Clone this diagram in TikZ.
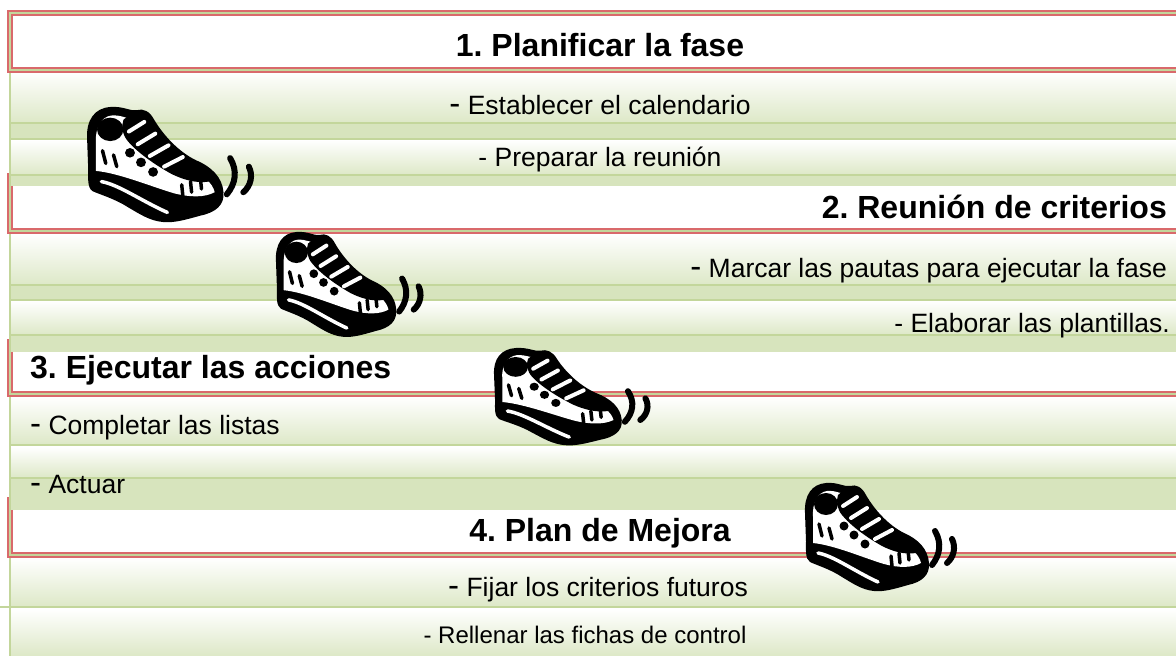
\documentclass[tikz,border=0pt]{standalone}
\usepackage{fontspec}
\setmainfont{Liberation Sans}
\usetikzlibrary{positioning}

\definecolor{rowgreen}{HTML}{D7E4BD}
\definecolor{linegreen}{HTML}{C3D69B}
\definecolor{rimred}{HTML}{D9696B}

\newcommand{\bigdash}{{\fontsize{33}{36}\selectfont -}}

% running shoe, local units in px, y pointing down
\tikzset{
  sneaker/.pic={
    \fill[black] (1,30) .. controls (0,12) and (8,1) .. (22,0)
      .. controls (34,-1) and (40,4) .. (46,3)
      .. controls (52,1) and (58,4) .. (62,12)
      .. controls (70,26) and (84,42) .. (100,50)
      .. controls (114,56) and (124,66) .. (125,80)
      .. controls (126,92) and (118,99) .. (104,102)
      .. controls (90,106) and (80,109) .. (70,108)
      .. controls (58,107) and (48,100) .. (38,94)
      .. controls (26,86) and (12,82) .. (6,79)
      .. controls (1,76) and (2,66) .. (2,58) -- cycle;
    \fill[white] (9,34) .. controls (8,20) and (14,9) .. (23,8)
      .. controls (32,7) and (38,12) .. (45,11)
      .. controls (49,10) and (52,12) .. (54,16)
      .. controls (64,32) and (78,48) .. (95,58)
      .. controls (106,64) and (115,71) .. (117,80)
      .. controls (108,85) and (95,85) .. (80,81)
      .. controls (60,75) and (30,62) .. (9,60) -- cycle;
    % laces
    \fill[black] (34,12) .. controls (42,4) and (54,4) .. (58,12)
      .. controls (68,28) and (84,44) .. (100,54)
      .. controls (108,58) and (112,64) .. (112,70)
      .. controls (100,72) and (88,68) .. (78,63)
      .. controls (62,54) and (46,42) .. (38,32)
      .. controls (33,26) and (32,18) .. (34,12) -- cycle;
    \draw[white, line width=4pt, line cap=round]
      (39,23) -- (53,14) (47,35) -- (63,25) (58,46) -- (75,36) (71,56) -- (88,47);
    \fill[black] (22,21) ellipse [x radius=12, y radius=11];
    \fill[black] (40,43) circle (4.5) (50,52) circle (4.5) (61,61) circle (4.5);
    \draw[black, line width=3.5pt, line cap=round]
      (15,41) -- (18,53) (25,45) -- (28,56)
      (87,73) -- (88,83) (95,70) -- (96,80) (104,67) -- (105,77);
    % sole stripe
    \draw[white, line width=3.5pt, line cap=round]
      (14,70) .. controls (30,73) and (50,88) .. (74,99);
    % motion marks
    \draw[black, line width=6pt, line cap=round]
      (131,48) .. controls (138,60) and (136,72) .. (128,82)
      (148,56) .. controls (152,64) and (150,74) .. (143,80);
  }
}

\begin{document}
\frenchspacing
\begin{tikzpicture}[x=1pt, y=-1pt,
  bar/.style={top color=white, bottom color=rowgreen!85!white},
  band/.style={fill=rowgreen},
  rule/.style={draw=linegreen, line width=1.5pt},
  redline/.style={draw=rimred, line width=1.3pt},
  head/.style={font=\fontsize{32}{36}\selectfont\bfseries, inner sep=0pt},
  item/.style={font=\fontsize{26.5}{30}\selectfont, inner sep=0pt}
]
\useasboundingbox (0,0) rectangle (1176,656);

% task strips
\foreach \ya/\yb in {71/123, 140/175, 234/285, 301/335, 397/445, 447/478, 558/607, 609/656}
  \shade[bar] (10,\ya) rectangle (1176,\yb);
\foreach \ya/\yb in {123/139, 175/186, 285/300, 335/352, 478/510}
  \fill[band] (10,\ya) rectangle (1176,\yb);
\foreach \y in {123, 139, 175, 285, 300, 335, 445, 478, 607}
  \draw[rule] (10,\y) -- (1176,\y);
\draw[rule] (0,607) -- (10,607);
\draw[rule] (10,70) -- (10,656);

% phase headers
\fill[white] (10,13) rectangle (1176,70);
\draw[redline] (1176,11) -- (8,11) -- (8,72) -- (1176,72);
\draw[redline] (1176,15) -- (12,15) -- (12,68) -- (1176,68);
\draw[rule] (1176,13) -- (10,13) -- (10,70) -- (1176,70);
\foreach \ya/\yb in {186/231, 352/394, 510/555} {
  \fill[white] (10,\ya) rectangle (1176,\yb);
  \draw[redline] (8,\ya-13) -- (8,\yb+2) -- (1176,\yb+2);
  \draw[redline] (12,\ya) -- (12,\yb-2) -- (1176,\yb-2);
  \draw[rule] (10,\ya-13) -- (10,\yb) -- (1176,\yb);
}

% texts
\node[head, anchor=base] (phase1) at (600,56) {1. Planificar la fase};
\node[item, anchor=base] (calendar) at (600,114) {\bigdash{} Establecer el calendario};
\node[item, anchor=base] (meeting) at (600,166) {- Preparar la reunión};
\node[head, anchor=base east] (phase2) at (1167,218) {2. Reunión de criterios};
\node[item, anchor=base east] (rules) at (1167,277) {\bigdash{} Marcar las pautas para ejecutar la fase};
\node[item, anchor=base east] (templates) at (1170,332) {- Elaborar las plantillas.};
\node[head, anchor=base west] (phase3) at (30,378) {3. Ejecutar las acciones};
\node[item, anchor=base west] (lists) at (30,434) {\bigdash{} Completar las listas};
\node[item, anchor=base west] (act) at (30,493) {\bigdash{} Actuar};
\node[head, anchor=base] (phase4) at (600,541) {4. Plan de Mejora};
\node[item, anchor=base] (criteria) at (598,596) {\bigdash{} Fijar los criterios futuros};
\node[item, anchor=base, font=\fontsize{24}{28}\selectfont] (records) at (585,643) {- Rellenar las fichas de control};

% shoes
\pic[xscale=1.1, yscale=1.065] (shoeA) at (86,107) {sneaker};
\pic[xscale=0.97, yscale=0.97] (shoeB) at (275,232) {sneaker};
\pic[xscale=1.03, yscale=0.9] (shoeC) at (493,348) {sneaker};
\pic (shoeD) at (804,483) {sneaker};
\end{tikzpicture}
\end{document}
